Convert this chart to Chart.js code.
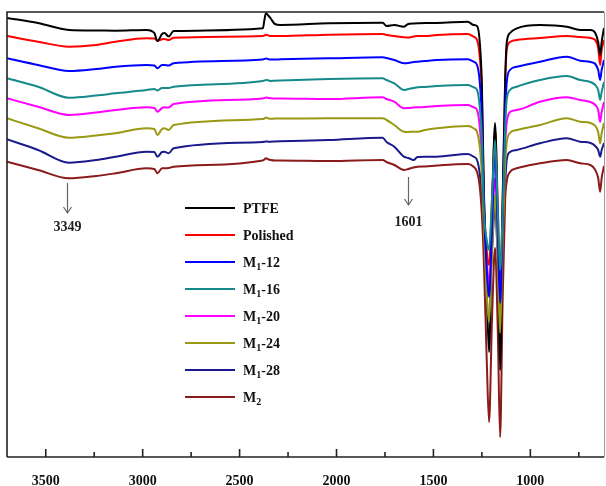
<!DOCTYPE html>
<html><head><meta charset="utf-8">
<script src="https://cdn.jsdelivr.net/npm/chart.js@4/dist/chart.umd.min.js"></script>
<style>html,body{margin:0;padding:0;background:#fff;}#wrap{width:606px;height:486px;position:relative;}</style>
</head><body><div id="wrap"><canvas id="c" width="606" height="486"></canvas></div>
<script>
// Wavenumber (cm-1) grid shared by all spectra
const wavenumbers = [3700,3540,3380,3240,3140,2980,2940,2924,2900,2888,2866,2840,2380,2372,2364,2350,2340,2318,2290,2040,1762,1742,1702,1652,1630,1602,1582,1543,1483,1323,1293,1275,1262,1250,1240,1225,1213,1198,1182,1168,1156,1143,1130,1122,1105,1070,950,812,743,690,665,650,640,632,620];

const seriesNames = ['PTFE','Polished','M1-12','M1-16','M1-20','M1-24','M1-28','M2'];
const seriesColors = ['#000000','#ff0000','#0000ff','#168a8a','#ff00ff','#999914','#1a1a8c','#8b1a1a'];
const drawOrder = [3,5,1,0,6,2,7,4];

// Transmittance (a.u., stacked offsets)
const ptfe = [439,434,427,426.5,426.3,427,424,416,423,424,420.5,426,428.7,437,443.7,441,438.7,433,432,433.7,434.3,431,432,430.3,433,433.5,433.7,434,434,435.3,432,431,417,372,267,167,105,237,334,227,87,257,377,414,424,428.7,432,430.3,427,427,424,415,402,415,429];
const polished = [421,415.3,410.3,412,415.3,418.7,418.5,416.3,417.7,418,417,419.3,421,421.5,422.3,421.5,421,421,421,422.3,423,422,421,419.7,419.5,420.5,421,421,422,423,420.3,417,402,362,262,207,192,257,327,252,177,252,372,407,415,417,419,421,420,419,417,409,392,407,417];
const m1_12 = [398.7,392,386,388,390.3,392,391.5,388.7,392,392,391.5,393.7,397.5,398,398.5,397.7,397.5,397.5,397.7,398.7,399.7,399,397,393.7,394,395,395.3,396,397,397.7,395.3,392,377,337,252,187,160,227,312,222,154,237,342,374,387,390.3,395.3,400.3,396.3,395,393,387,377,387,397];
const m1_16 = [378.7,370.3,359.3,361.5,363.7,367,368,366.5,369,369,369,370.3,376,376.5,377,376.5,376,376.3,376.5,378,378.7,377,373.7,367,368,369,369.7,370,371,372,369.7,367,352,317,247,217,207,257,317,247,187,242,327,357,367,370.3,377,381,377,375,372,367,357,365,375];
const m1_20 = [358.7,350.3,342,344.5,347,349.7,349,345.3,349,349.7,349.5,353,358.5,359,359.5,359,358.7,358.5,358.5,358,359.7,358,355.3,348.7,349,349.5,349.7,350,351,352,349.7,347,332,297,242,197,172,227,279,222,162,237,312,334,345,347,355.3,359.7,357,355,352,347,335,345,355];
const m1_24 = [338.7,328.7,319.3,321.5,323.7,328.7,328,322,328,328.7,327,332,338,338.5,339.5,338.5,338.2,338.5,338.5,338.7,338.7,337,332,325.3,325,325.3,325.3,327,328.7,331,328.7,325,312,282,232,162,135,202,262,192,124,217,292,314,324,327,332,338.7,335.3,334,331,325,313.7,324,334];
const m1_28 = [317.7,307,294.3,297,300.3,305.3,305,300.3,305,305.3,303.7,308.7,315,315.3,315.5,315.3,315.3,315.5,315.7,317,319.3,315,310.3,300.3,299,297,300,300.3,300.3,303,300.3,297,285,262,227,187,162,207,249,202,157,212,272,297,305,307,313.7,318.7,315.3,314,311,307,300.3,307,314];
const m2 = [295.3,287,278.7,281,283.7,288.7,288,283.7,288.7,288.7,289,290.3,296.5,297.5,298.7,297.5,297,296.5,296.5,296,297,295,292,287,288,289.5,290.3,290.5,291.5,293,290.3,285,272,242,197,97,35,137,209,127,20,157,257,275.3,285,288.7,293.7,297,293.7,292,287,279,265.3,279,291];

const seriesValues = [ptfe, polished, m1_12, m1_16, m1_20, m1_24, m1_28, m2];

const majorTicks = [3500,3000,2500,2000,1500,1000];
const minorTicks = [3250,2750,2250,1750,1250,750];

// Peak annotations (label, wavenumber position, arrow start, arrow tip, label y)
const annotText = ['3349','1601'];
const annotWn = [3392,1633];
const annotFrom = [274,280];
const annotTo = [244,252];
const annotLabelY = [230,235];

const SERIF = '"Liberation Serif","Times New Roman",serif';

const framePlugin = {
  id:'frame',
  afterDatasetsDraw(chart){
    const {ctx, chartArea:a, scales:{x, y}} = chart;
    ctx.save();
    // annotations
    ctx.strokeStyle = '#666'; ctx.lineWidth = 1.2; ctx.fillStyle = '#222';
    ctx.font = 'bold 14px ' + SERIF; ctx.textAlign = 'center'; ctx.textBaseline = 'middle';
    annotText.forEach((t,i)=>{
      const px = Math.round(x.getPixelForValue(annotWn[i])) + 0.5;
      const y1 = y.getPixelForValue(annotFrom[i]);
      const y2 = y.getPixelForValue(annotTo[i]);
      ctx.beginPath(); ctx.moveTo(px,y1); ctx.lineTo(px,y2);
      ctx.moveTo(px-4,y2-6); ctx.lineTo(px,y2); ctx.lineTo(px+4,y2-6); ctx.stroke();
      ctx.fillText(t, px, y.getPixelForValue(annotLabelY[i]));
    });
    // frame
    ctx.strokeStyle = '#222'; ctx.lineWidth = 1.6;
    ctx.beginPath();
    ctx.moveTo(a.left, a.bottom); ctx.lineTo(a.left, a.top); ctx.lineTo(a.right, a.top);
    ctx.moveTo(a.left, a.bottom); ctx.lineTo(a.right, a.bottom);
    ctx.stroke();
    ctx.strokeStyle = '#999'; ctx.lineWidth = 1;
    ctx.beginPath(); ctx.moveTo(a.right+0.5, a.top); ctx.lineTo(a.right+0.5, a.bottom); ctx.stroke();
    // inward ticks
    ctx.strokeStyle = '#222'; ctx.lineWidth = 1.6;
    ctx.beginPath();
    majorTicks.forEach(v=>{const px=x.getPixelForValue(v); ctx.moveTo(px,a.bottom); ctx.lineTo(px,a.bottom-8);});
    minorTicks.forEach(v=>{const px=x.getPixelForValue(v); ctx.moveTo(px,a.bottom); ctx.lineTo(px,a.bottom-5);});
    ctx.stroke();
    ctx.restore();
  },
  afterDraw(chart){
    const ctx = chart.ctx;
    ctx.save();
    ctx.textBaseline = 'middle'; ctx.textAlign = 'left'; ctx.fillStyle = '#111';
    chart.data.datasets.forEach((ds,i)=>{
      const yy = 208 + i*27;
      ctx.strokeStyle = ds.borderColor; ctx.lineWidth = 2;
      ctx.beginPath(); ctx.moveTo(185, yy); ctx.lineTo(235, yy); ctx.stroke();
      const m = ds.label.match(/^M(\d)(.*)$/);
      let xx = 243;
      ctx.font = 'bold 14px ' + SERIF;
      if (!m) { ctx.fillText(ds.label, xx, yy+1); return; }
      ctx.fillText('M', xx, yy+1); xx += ctx.measureText('M').width;
      ctx.font = 'bold 10px ' + SERIF; ctx.fillText(m[1], xx, yy+5); xx += ctx.measureText(m[1]).width;
      ctx.font = 'bold 14px ' + SERIF; ctx.fillText(m[2], xx, yy+1);
    });
    ctx.restore();
  }
};

new Chart(document.getElementById('c'), {
  type:'line',
  data:{
    datasets: seriesNames.map((name,i)=>({
      label:name,
      data: wavenumbers.map((w,j)=>({x:w, y:seriesValues[i][j]})),
      borderColor: seriesColors[i],
      borderWidth: 2,
      pointRadius: 0,
      fill:false,
      cubicInterpolationMode:'monotone',
      order: drawOrder[i]
    }))
  },
  options:{
    responsive:false, animation:false,
    layout:{padding:{left:7, right:2, top:12, bottom:0}},
    plugins:{legend:{display:false}, tooltip:{enabled:false}},
    scales:{
      x:{type:'linear', reverse:true, min:620, max:3700,
        afterBuildTicks:s=>{ s.ticks = majorTicks.map(v=>({value:v})); },
        afterFit:s=>{ s.height = 29; },
        grid:{display:false, drawTicks:false}, border:{display:false},
        ticks:{font:{family:SERIF, weight:'bold', size:14}, color:'#111', padding:16, maxRotation:0, autoSkip:false,
          callback:v=>String(v)}
      },
      y:{display:false, min:0, max:445}
    }
  },
  plugins:[framePlugin]
});
</script></body></html>
